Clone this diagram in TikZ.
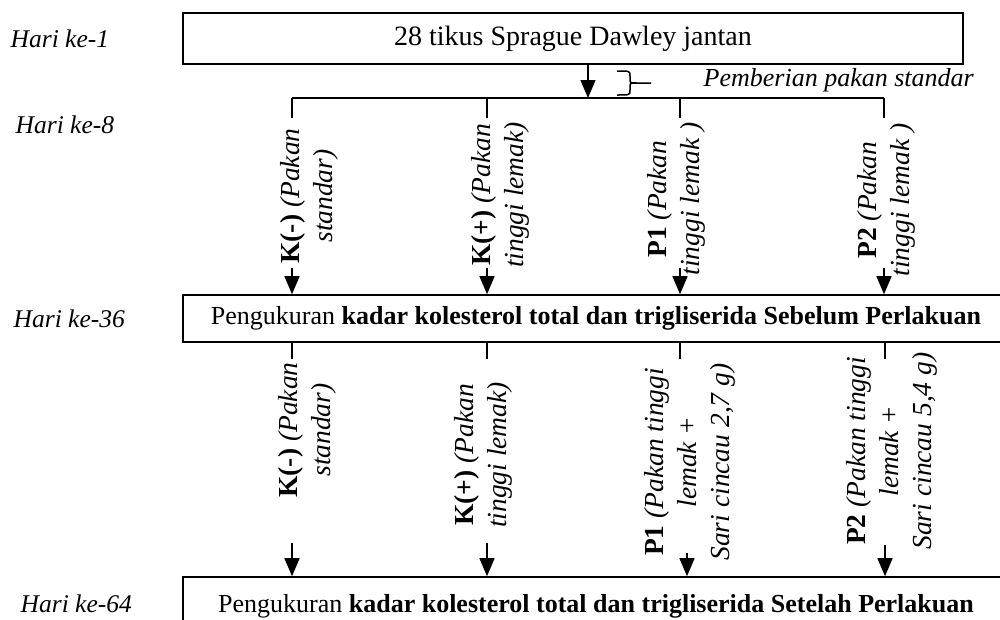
\documentclass[tikz,border=0pt]{standalone}
\usepackage{fontspec}
\setmainfont{Liberation Serif}
\usetikzlibrary{arrows.meta}
\begin{document}
\begin{tikzpicture}[x=1pt,y=-1pt,
  line width=1.4pt,
  box/.style={draw, line width=1.6pt, inner sep=0pt},
  arr/.style={-{Triangle[length=18pt,width=15pt]}, line width=1.5pt},
  lab/.style={rotate=90, align=center, inner sep=0pt, font=\fontsize{27.5}{33}\selectfont},
  hari/.style={anchor=base west, inner sep=0pt, font=\fontsize{25.5}{30}\selectfont\itshape},
  boxtext/.style={font=\fontsize{26}{30}\selectfont}
  ]
\useasboundingbox (0,0) rectangle (1000,619);
\clip (0,0) rectangle (1000,619);
\fill[white] (0,0) rectangle (1000,619);

% left day labels
\node[hari] (h1) at (10,47) {Hari ke-1};
\node[hari] (h8) at (15,133) {Hari ke-8};
\node[hari] (h36) at (13,327) {Hari ke-36};
\node[hari] (h64) at (20,612) {Hari ke-64};

% top box
\node[box, minimum width=780pt, minimum height=51pt, font=\fontsize{28}{32}\selectfont] (top) at (573,38.5) {28 tikus Sprague Dawley jantan};

% split arrow and bus
\coordinate (split) at (588,98);
\draw[arr] (top.south -| split) -- (split);
\coordinate (b1) at (292,98);
\coordinate (b2) at (487,98);
\coordinate (b3) at (680,98);
\coordinate (b4) at (884,98);
\coordinate (s1) at (292,118);
\coordinate (s2) at (487,118);
\coordinate (s3) at (680,118);
\coordinate (s4) at (884,118);
\draw (b1) -- (b4);
\draw (b1) -- (s1);
\draw (b2) -- (s2);
\draw (b3) -- (s3);
\draw (b4) -- (s4);

% brace and its label
\draw[line width=1.5pt] (617,71) .. controls (630,71) .. (630,76) -- (630,79)
  .. controls (630,83) .. (637,83) -- (651,83);
\draw[line width=1.5pt] (637,83) .. controls (630,83) .. (630,87) -- (630,90)
  .. controls (630,95) .. (617,95);
\node[anchor=base west, inner sep=0pt, font=\fontsize{26}{30}\selectfont\itshape] (pem) at (703,86) {Pemberian pakan standar};

% upper rotated labels
\node[lab] (lk1) at (309,196) {{\bfseries K(-)} {\itshape (Pakan}\\{\itshape standar)}};
\node[lab] (lk2) at (500,195) {{\bfseries K(+)} {\itshape (Pakan}\\{\itshape tinggi lemak)}};
\node[lab] (lp1) at (676,199) {{\bfseries P1} {\itshape (Pakan}\\{\itshape tinggi lemak )}};
\node[lab] (lp2) at (886,200) {{\bfseries P2} {\itshape (Pakan}\\{\itshape tinggi lemak )}};

% middle box
\node[box, minimum width=826pt, minimum height=47pt, boxtext] (mid) at (596,318.5) {Pengukuran {\bfseries kadar kolesterol total dan trigliserida Sebelum Perlakuan}};

\coordinate (t1) at (292,268);
\coordinate (t2) at (487,268);
\coordinate (t3) at (680,268);
\coordinate (t4) at (884,268);
\draw[arr] (t1) -- (t1 |- mid.north);
\draw[arr] (t2) -- (t2 |- mid.north);
\draw[arr] (t3) -- (t3 |- mid.north);
\draw[arr] (t4) -- (t4 |- mid.north);

% stubs below middle box
\coordinate (u1) at (292,359);
\coordinate (u2) at (487,359);
\coordinate (u3) at (680,359);
\coordinate (u4) at (885,359);
\draw (mid.south -| u1) -- (u1);
\draw (mid.south -| u2) -- (u2);
\draw (mid.south -| u3) -- (u3);
\draw (mid.south -| u4) -- (u4);

% lower rotated labels
\node[lab] (mk1) at (307,430) {{\bfseries K(-)} {\itshape (Pakan}\\{\itshape standar)}};
\node[lab] (mk2) at (483,455) {{\bfseries K(+)} {\itshape (Pakan}\\{\itshape tinggi lemak)}};
\node[lab] (mp1) at (690,462) {{\bfseries P1} {\itshape (Pakan tinggi}\\{\itshape lemak +}\\{\itshape Sari cincau 2,7 g)}};
\node[lab] (mp2) at (892,451) {{\bfseries P2} {\itshape (Pakan tinggi}\\{\itshape lemak +}\\{\itshape Sari cincau 5,4 g)}};

% bottom box
\node[box, minimum width=826pt, minimum height=58pt, boxtext] (bot) at (596,606) {Pengukuran {\bfseries kadar kolesterol total dan trigliserida Setelah Perlakuan}};

\coordinate (l1) at (292,543);
\coordinate (l2) at (487,543);
\coordinate (l3) at (687,553);
\coordinate (l4) at (885,545);
\draw[arr] (l1) -- (l1 |- bot.north);
\draw[arr] (l2) -- (l2 |- bot.north);
\draw[arr] (l3) -- (l3 |- bot.north);
\draw[arr] (l4) -- (l4 |- bot.north);
\end{tikzpicture}
\end{document}
